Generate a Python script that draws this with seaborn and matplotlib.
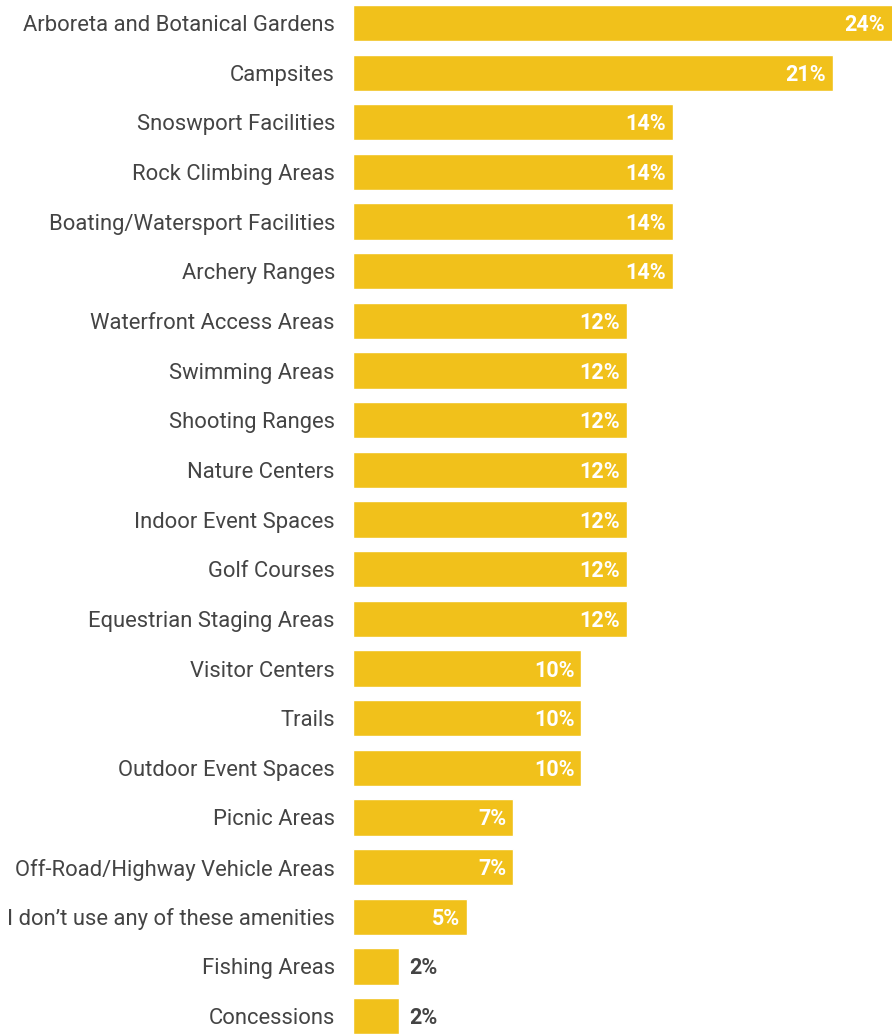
import matplotlib
matplotlib.use("Agg")
import matplotlib.pyplot as plt
import seaborn as sns
import pandas as pd

amenities = [
    "Arboreta and Botanical Gardens", "Campsites", "Snoswport Facilities",
    "Rock Climbing Areas", "Boating/Watersport Facilities", "Archery Ranges",
    "Waterfront Access Areas", "Swimming Areas", "Shooting Ranges",
    "Nature Centers", "Indoor Event Spaces", "Golf Courses",
    "Equestrian Staging Areas", "Visitor Centers", "Trails",
    "Outdoor Event Spaces", "Picnic Areas", "Off-Road/Highway Vehicle Areas",
    "I don\u2019t use any of these amenities", "Fishing Areas", "Concessions",
]
shares = [24, 21, 14, 14, 14, 14, 12, 12, 12, 12, 12, 12, 12, 10, 10, 10, 7, 7, 5, 2, 2]

df = pd.DataFrame({"amenity": amenities, "share": shares})

sns.set_style("white")
plt.rcParams["font.family"] = ["Roboto", "DejaVu Sans"]

fig = plt.figure(figsize=(8.92, 10.34), dpi=100)
ax = fig.add_axes([353 / 892, 0, (892 - 353) / 892, 1])
sns.barplot(data=df, x="share", y="amenity", color="#F1C11B", saturation=1,
            width=0.73, ax=ax)

# top bar runs off the right edge, like the original
ax.set_xlim(0, 23.6)
ax.set_ylim(20.36, -0.463)
ax.set_xlabel("")
ax.set_ylabel("")
ax.set_xticks([])
sns.despine(ax=ax, left=True, bottom=True)
ax.tick_params(axis="y", length=0, pad=13, labelsize=15.8, labelcolor="#444444")

for i, v in enumerate(shares):
    if v >= 5:
        ax.text(min(v, 23.6) - 0.3, i + 0.04, f"{v}%", ha="right", va="center",
                color="white", fontsize=15.5, fontweight="bold", clip_on=False)
    else:
        ax.text(v + 0.45, i + 0.04, f"{v}%", ha="left", va="center",
                color="#444444", fontsize=15.5, fontweight="bold")

fig.savefig("out.png", dpi=100)
